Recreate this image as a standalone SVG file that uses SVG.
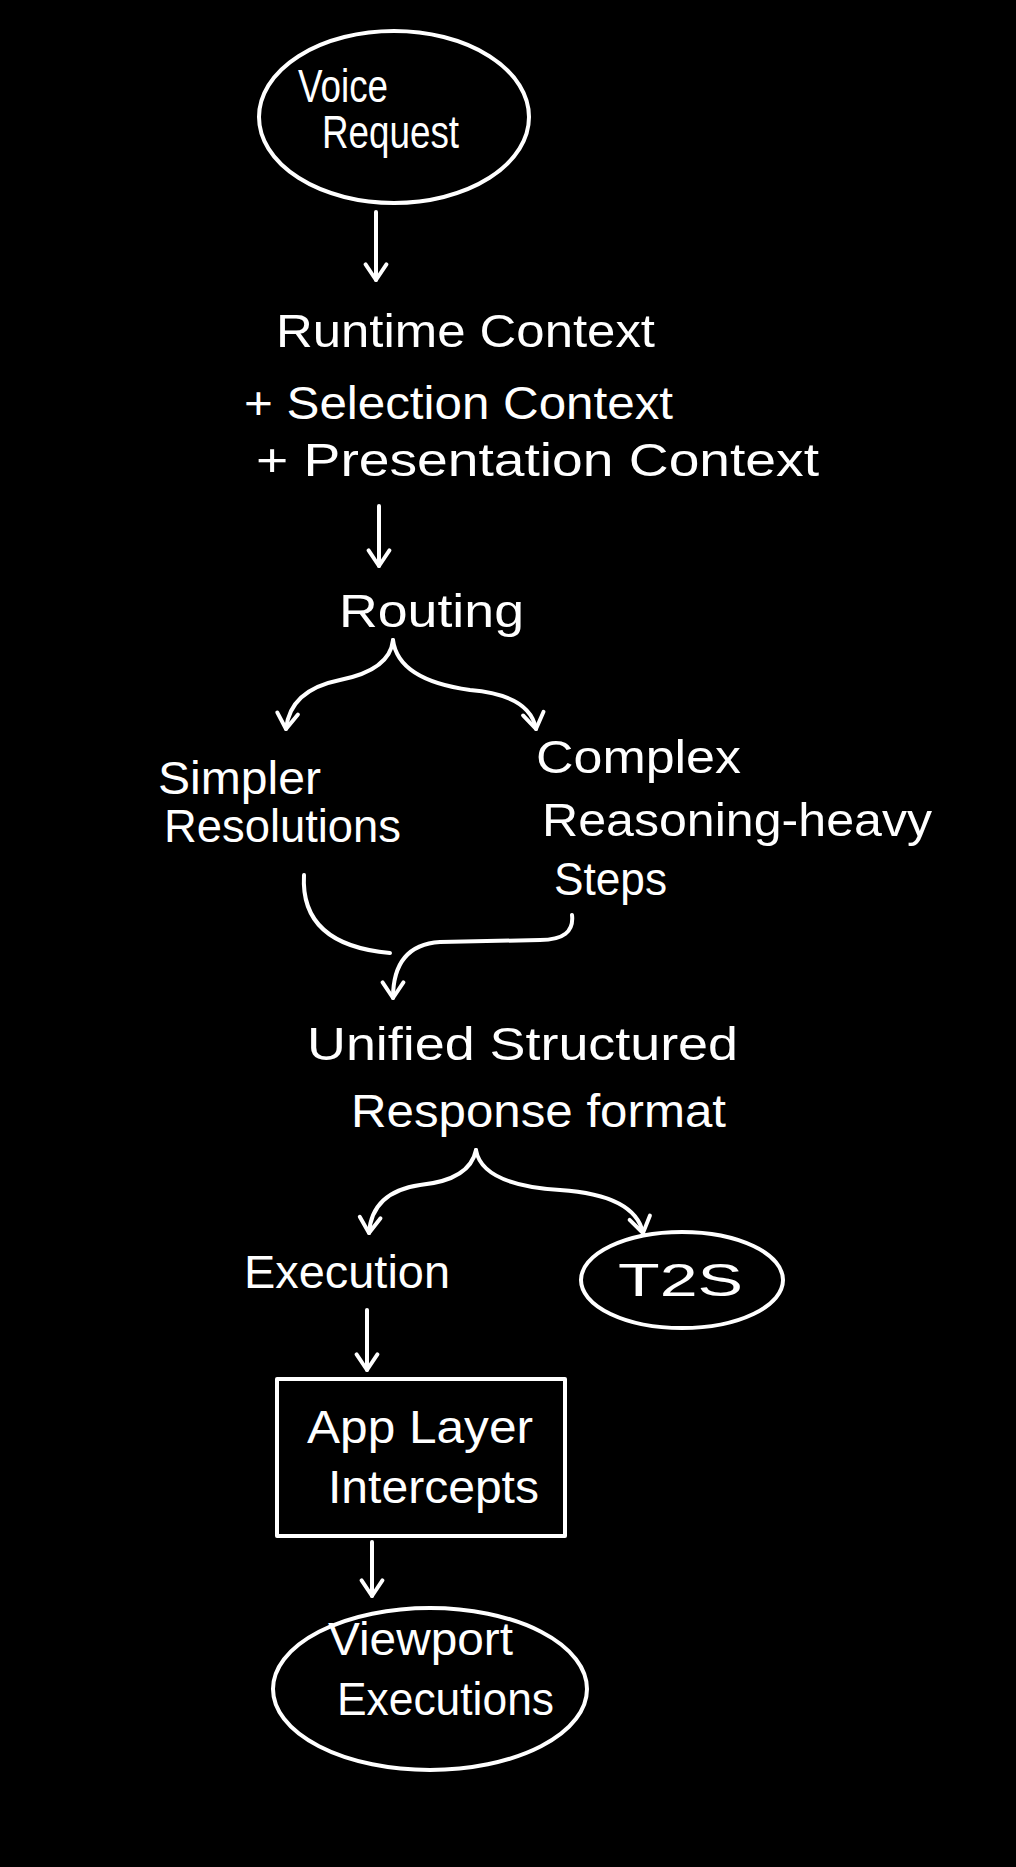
<svg xmlns="http://www.w3.org/2000/svg" width="1016" height="1867" viewBox="0 0 1016 1867">
<defs>
<style>
.t{font-family:"Liberation Sans","DejaVu Sans",sans-serif;font-size:46px;fill:#fff;}
.s{fill:none;stroke:#fff;stroke-width:4;stroke-linecap:round;stroke-linejoin:round;}
</style>
<marker id="a" viewBox="0 0 20 20" refX="17" refY="10" markerWidth="26" markerHeight="26" orient="auto" markerUnits="userSpaceOnUse">
<path d="M5 2 L17 10 L5 18" fill="none" stroke="#fff" stroke-width="3" stroke-linecap="round" stroke-linejoin="round"/>
</marker>
</defs>
<rect width="1016" height="1867" fill="#000"/>
<g id="voice"><ellipse class="s" cx="394" cy="117" rx="135" ry="86"/><text class="t" x="298" y="102" textLength="90" lengthAdjust="spacingAndGlyphs">Voice</text><text class="t" x="322" y="148" textLength="137" lengthAdjust="spacingAndGlyphs">Request</text></g>
<g id="context"><text class="t" x="276" y="347" textLength="379" lengthAdjust="spacingAndGlyphs">Runtime Context</text><text class="t" x="244" y="419" textLength="429" lengthAdjust="spacingAndGlyphs">+ Selection Context</text><text class="t" x="256" y="476" textLength="563" lengthAdjust="spacingAndGlyphs">+ Presentation Context</text></g>
<g id="routing"><text class="t" x="339" y="627" textLength="185" lengthAdjust="spacingAndGlyphs">Routing</text></g>
<g id="simpler"><text class="t" x="158" y="794" textLength="163" lengthAdjust="spacingAndGlyphs">Simpler</text><text class="t" x="164" y="842" textLength="237" lengthAdjust="spacingAndGlyphs">Resolutions</text></g>
<g id="complex"><text class="t" x="536" y="773" textLength="205" lengthAdjust="spacingAndGlyphs">Complex</text><text class="t" x="542" y="836" textLength="390" lengthAdjust="spacingAndGlyphs">Reasoning-heavy</text><text class="t" x="554" y="895" textLength="113" lengthAdjust="spacingAndGlyphs">Steps</text></g>
<g id="unified"><text class="t" x="307" y="1060" textLength="431" lengthAdjust="spacingAndGlyphs">Unified Structured</text><text class="t" x="351" y="1127" textLength="375" lengthAdjust="spacingAndGlyphs">Response format</text></g>
<g id="execution"><text class="t" x="244" y="1288" textLength="206" lengthAdjust="spacingAndGlyphs">Execution</text></g>
<g id="t2s"><ellipse class="s" cx="682" cy="1280" rx="101" ry="48"/><text class="t" x="618" y="1296" textLength="125" lengthAdjust="spacingAndGlyphs">T2S</text></g>
<g id="app"><rect class="s" x="277" y="1379" width="288" height="157"/><text class="t" x="307" y="1443" textLength="226" lengthAdjust="spacingAndGlyphs">App Layer</text><text class="t" x="328" y="1503" textLength="211" lengthAdjust="spacingAndGlyphs">Intercepts</text></g>
<g id="viewport"><ellipse class="s" cx="430" cy="1689" rx="157" ry="81"/><text class="t" x="328" y="1655" textLength="185" lengthAdjust="spacingAndGlyphs">Viewport</text><text class="t" x="337" y="1715" textLength="217" lengthAdjust="spacingAndGlyphs">Executions</text></g>
<g id="connectors">
<path class="s" d="M376 212 L376 280" marker-end="url(#a)"/>
<path class="s" d="M379 506 L379 566" marker-end="url(#a)"/>
<path class="s" d="M393 640 Q390 670 340 680 Q290 690 286 729" marker-end="url(#a)"/>
<path class="s" d="M393 640 Q398 680 470 690 Q530 695 536 729" marker-end="url(#a)"/>
<path class="s" d="M304 875 Q300 945 390 953" />
<path class="s" d="M572 915 Q575 940 540 940 L440 942 Q393 945 393 998" marker-end="url(#a)"/>
<path class="s" d="M476 1150 Q470 1180 420 1185 Q372 1192 369 1233" marker-end="url(#a)"/>
<path class="s" d="M476 1150 Q482 1185 560 1190 Q635 1195 643 1233" marker-end="url(#a)"/>
<path class="s" d="M367 1310 L367 1370" marker-end="url(#a)"/>
<path class="s" d="M372 1542 L372 1596" marker-end="url(#a)"/>
</g>
</svg>
